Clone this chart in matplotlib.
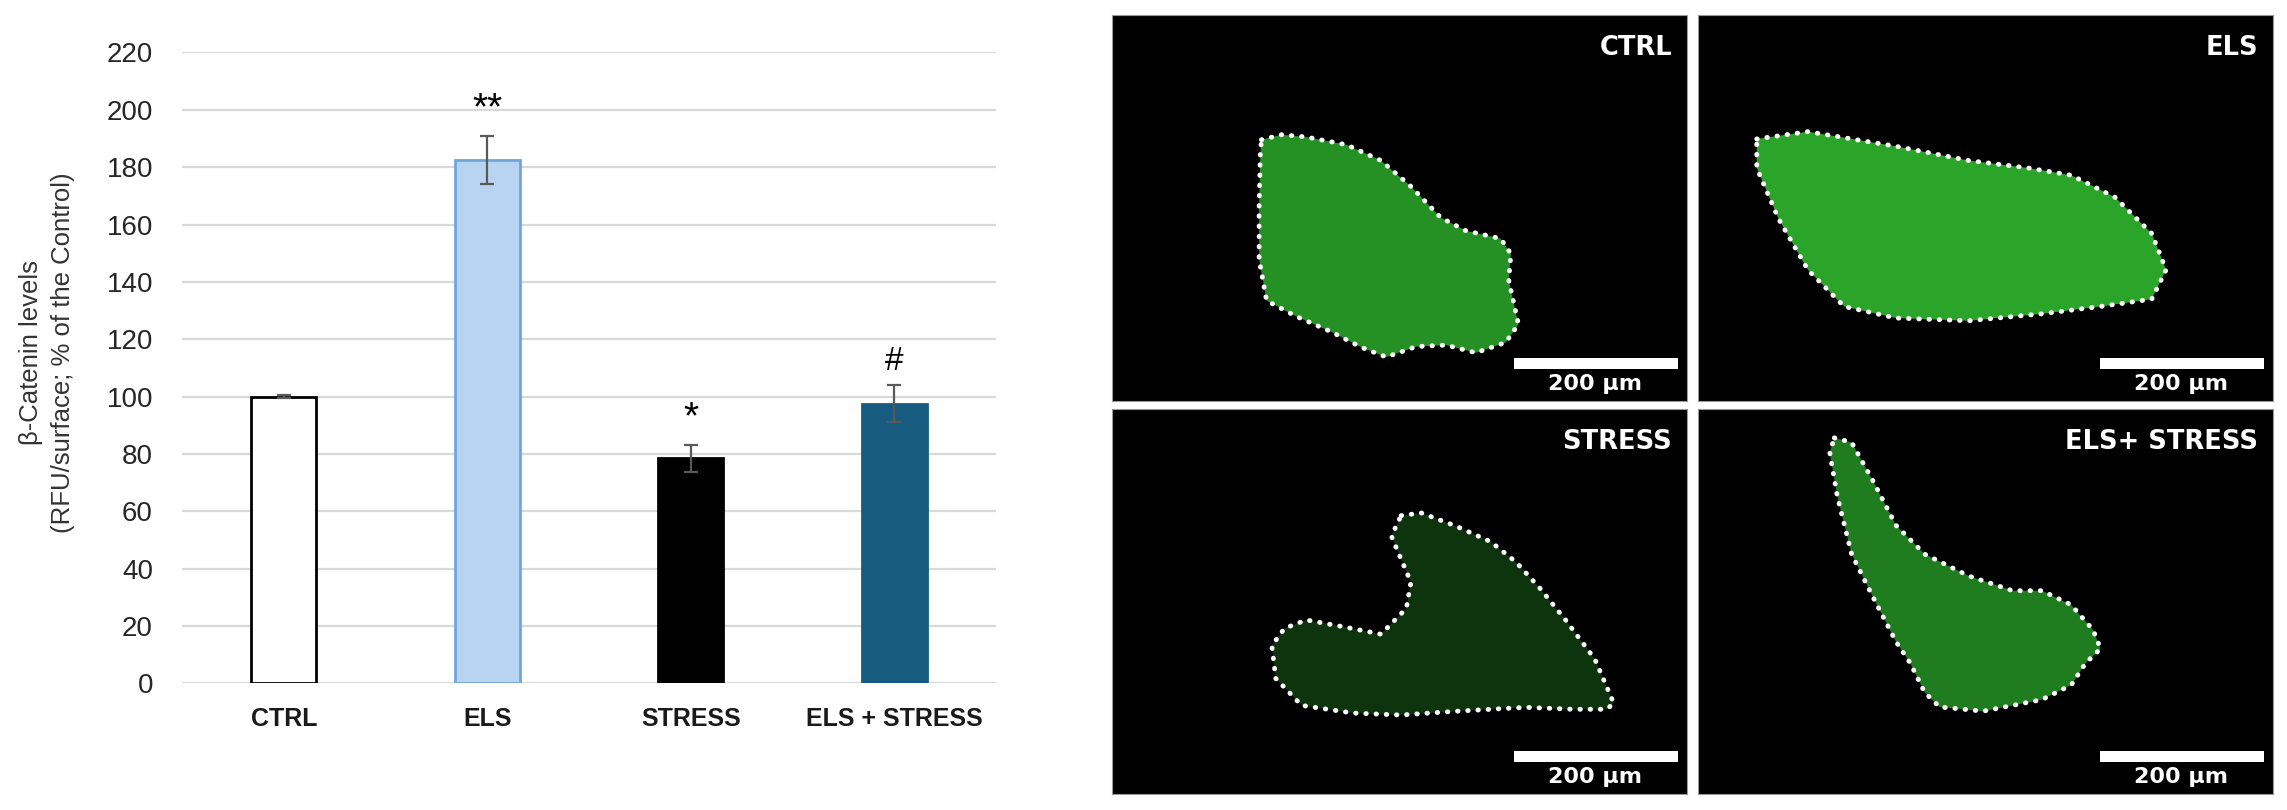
import numpy as np
import matplotlib.pyplot as plt
from matplotlib.patches import Polygon, Rectangle

plt.rcParams['font.family'] = ['Liberation Sans', 'DejaVu Sans']

# bar chart data
groups = ['CTRL', 'ELS', 'STRESS', 'ELS + STRESS']
levels = [100.0, 182.5, 78.5, 97.5]
levelErr = [0.5, 8.5, 4.6, 6.5]
sigMarks = ['', '**', '*', '#']
barFaces = ['white', '#b9d4f0', 'black', '#175c80']
barEdges = ['black', '#6fa6dc', 'black', '#175c80']
yTicks = list(range(0, 221, 20))

# image panels: label and tissue outline (fraction of panel, y from top)
panelNames = ['CTRL', 'ELS', 'STRESS', 'ELS+ STRESS']
ctrlOutline = [(0.260, 0.323), (0.295, 0.310), (0.338, 0.316), (0.408, 0.336),
               (0.468, 0.377), (0.520, 0.444), (0.572, 0.525), (0.616, 0.559),
               (0.676, 0.579), (0.694, 0.619), (0.690, 0.686), (0.707, 0.801),
               (0.685, 0.848), (0.633, 0.875), (0.581, 0.855), (0.529, 0.859),
               (0.477, 0.886), (0.434, 0.861), (0.382, 0.821), (0.321, 0.781),
               (0.269, 0.740), (0.256, 0.633), (0.256, 0.498), (0.258, 0.363)]
elsOutline = [(0.102, 0.321), (0.191, 0.302), (0.344, 0.340), (0.471, 0.377),
              (0.573, 0.396), (0.649, 0.415), (0.725, 0.472), (0.789, 0.566),
              (0.814, 0.660), (0.789, 0.736), (0.700, 0.755), (0.598, 0.774),
              (0.471, 0.792), (0.344, 0.785), (0.254, 0.755), (0.191, 0.660),
              (0.140, 0.528), (0.102, 0.396)]
stressOutline = [(0.503, 0.277), (0.538, 0.270), (0.598, 0.304), (0.659, 0.345),
                 (0.703, 0.398), (0.744, 0.465), (0.790, 0.550), (0.840, 0.650),
                 (0.873, 0.765), (0.860, 0.780), (0.800, 0.780), (0.720, 0.775),
                 (0.660, 0.780), (0.600, 0.785), (0.550, 0.790), (0.503, 0.795),
                 (0.420, 0.790), (0.330, 0.770), (0.285, 0.700), (0.278, 0.615),
                 (0.300, 0.570), (0.338, 0.548), (0.400, 0.565), (0.468, 0.585),
                 (0.512, 0.518), (0.520, 0.450), (0.500, 0.380), (0.486, 0.330)]
bothOutline = [(0.237, 0.075), (0.267, 0.087), (0.305, 0.189), (0.344, 0.302),
               (0.394, 0.377), (0.471, 0.434), (0.547, 0.472), (0.598, 0.472),
               (0.649, 0.509), (0.687, 0.574), (0.700, 0.623), (0.674, 0.660),
               (0.649, 0.717), (0.598, 0.755), (0.496, 0.785), (0.420, 0.774),
               (0.394, 0.736), (0.369, 0.660), (0.344, 0.604), (0.305, 0.491),
               (0.267, 0.377), (0.242, 0.226), (0.229, 0.113)]
outlines = [ctrlOutline, elsOutline, stressOutline, bothOutline]
tissueAlpha = [0.7, 0.8, 0.25, 0.6]

fig = plt.figure(figsize=(22.87, 8.1), dpi=100)

# ---- bar chart ----
ax = fig.add_axes([0.0796, 0.1562, 0.3559, 0.779])
x = np.arange(len(groups))
ax.bar(x, levels, width=0.32, color=barFaces, edgecolor=barEdges, linewidth=2, zorder=3)
ax.errorbar(x, levels, yerr=levelErr, fmt='none', ecolor='#595959',
            elinewidth=1.6, capsize=5, capthick=1.6, zorder=4)
for i in range(len(groups)):
    if sigMarks[i]:
        top = levels[i] + levelErr[i]
        size = 24 if sigMarks[i] == '#' else 28
        ax.text(x[i], top + 3, sigMarks[i], ha='center', va='bottom',
                fontsize=size, color='black', zorder=5)

ax.set_xlim(-0.5, len(groups) - 0.5)
ax.set_ylim(0, 220)
ax.set_yticks(yTicks)
ax.yaxis.grid(True, color='#d9d9d9', linewidth=1.6, zorder=0)
ax.set_axisbelow(True)
for s in ax.spines.values():
    s.set_visible(False)
ax.set_xticks(x)
ax.set_xticklabels(groups, fontweight='bold', fontsize=18, color='#1a1a1a')
ax.tick_params(axis='x', length=0, pad=17)
ax.tick_params(axis='y', length=0, pad=21, labelsize=20, labelcolor='#262626')
fig.text(0.0206, 0.565, 'β-Catenin levels\n(RFU/surface; % of the Control)',
         rotation=90, ha='center', va='center', fontsize=18.5, color='#333333',
         linespacing=1.4)

# ---- image panels ----
panelPos = [[0.4862, 0.5049, 0.2514, 0.4765], [0.7425, 0.5049, 0.2514, 0.4765],
            [0.4862, 0.0198, 0.2514, 0.4753], [0.7425, 0.0198, 0.2514, 0.4753]]
for i in range(4):
    pax = fig.add_axes(panelPos[i])
    pax.set_facecolor('black')
    pax.set_xlim(0, 1)
    pax.set_ylim(1, 0)
    pax.set_xticks([])
    pax.set_yticks([])
    for s in pax.spines.values():
        s.set_color('#999999')
        s.set_linewidth(0.8)
    pts = outlines[i]
    pax.add_patch(Polygon(pts, closed=True, facecolor='#35d035', edgecolor='none',
                          alpha=tissueAlpha[i]))
    xs = [p[0] for p in pts] + [pts[0][0]]
    ys = [p[1] for p in pts] + [pts[0][1]]
    pax.plot(xs, ys, color='white', linewidth=3.5, linestyle=(0, (0.1, 2)),
             dash_capstyle='round')
    pax.text(0.974, 0.915, panelNames[i], transform=pax.transAxes, ha='right',
             va='center', color='white', fontsize=18.5, fontweight='bold',
             family='DejaVu Sans')
    pax.add_patch(Rectangle((0.699, 0.083), 0.285, 0.0285, transform=pax.transAxes,
                            facecolor='white', edgecolor='none'))
    pax.text(0.84, 0.044, '200 µm', transform=pax.transAxes, ha='center',
             va='center', color='white', fontsize=16, fontweight='bold',
             family='DejaVu Sans')

fig.savefig('out.png', dpi=100)
